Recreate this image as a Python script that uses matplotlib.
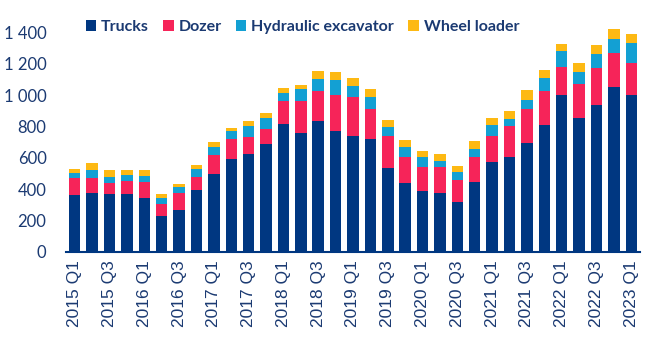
import numpy as np
import matplotlib
matplotlib.use("Agg")
import matplotlib.pyplot as plt
from matplotlib.ticker import FuncFormatter

# Quarterly units by machine type
quarters = [f"{y} Q{q}" for y in range(2015, 2024) for q in range(1, 5)][:33]

trucks = [364, 377, 371, 371, 345, 230, 268, 396, 498, 594, 626, 690,
          818, 760, 837, 773, 741, 722, 537, 441, 390, 377, 320, 447,
          575, 607, 697, 812, 1003, 856, 939, 1054, 1003]
dozer = [111, 98, 70, 83, 104, 79, 109, 83, 118, 128, 109, 96,
         143, 205, 188, 226, 249, 192, 206, 166, 153, 166, 140, 160,
         166, 200, 217, 217, 179, 218, 237, 218, 205]
excavator = [30, 49, 38, 38, 39, 36, 38, 51, 55, 51, 70, 70,
             55, 77, 80, 100, 71, 76, 56, 64, 64, 38, 51, 51,
             71, 43, 59, 83, 102, 76, 89, 89, 128]
loader = [25, 45, 45, 32, 36, 26, 22, 28, 32, 19, 32, 32,
          32, 25, 52, 51, 51, 52, 44, 45, 38, 45, 39, 51,
          44, 51, 62, 51, 45, 58, 58, 64, 57]

names = ["Trucks", "Dozer", "Hydraulic excavator", "Wheel loader"]
colors = ["#003781", "#F62459", "#13A0D3", "#FDB913"]
text_color = "#1B3A72"

fig = plt.figure(figsize=(6.51, 3.54), dpi=100)
ax = fig.add_axes([66 / 651, 1 - 252 / 354, 574 / 651, (252 - 17) / 354])

x = np.arange(len(quarters))
bottom = np.zeros(len(quarters))
for name, vals, c in zip(names, [trucks, dozer, excavator, loader], colors):
    ax.bar(x, vals, width=0.66, bottom=bottom, color=c, label=name, linewidth=0)
    bottom += np.array(vals)

ax.set_xlim(-0.5, len(quarters) - 0.5)
ax.set_ylim(0, 1500)
ax.set_yticks(range(0, 1401, 200))
ax.yaxis.set_major_formatter(FuncFormatter(lambda v, p: f"{int(v):,}".replace(",", " ")))
ax.set_xticks(x[::2])
ax.set_xticklabels(quarters[::2], rotation=90, fontsize=12.5,
                   family="Liberation Sans", color=text_color)

for s in ["top", "right", "left"]:
    ax.spines[s].set_visible(False)
ax.spines["bottom"].set_color("#003781")
ax.spines["bottom"].set_linewidth(1.5)
ax.tick_params(axis="y", length=0, pad=14, labelsize=12, labelcolor=text_color)
ax.tick_params(axis="x", length=0, pad=6)
for lab in ax.get_yticklabels():
    lab.set_family("Lato")

fig.legend(loc="center left", bbox_to_anchor=(86 / 651, 1 - 27 / 354), ncol=4,
           frameon=False, handlelength=0.65, handleheight=0.65, handletextpad=0.3,
           columnspacing=0.9, borderpad=0, borderaxespad=0,
           prop={"family": "Lato", "weight": "bold", "size": 11.5},
           labelcolor=text_color)

fig.savefig("out.png", dpi=100)
